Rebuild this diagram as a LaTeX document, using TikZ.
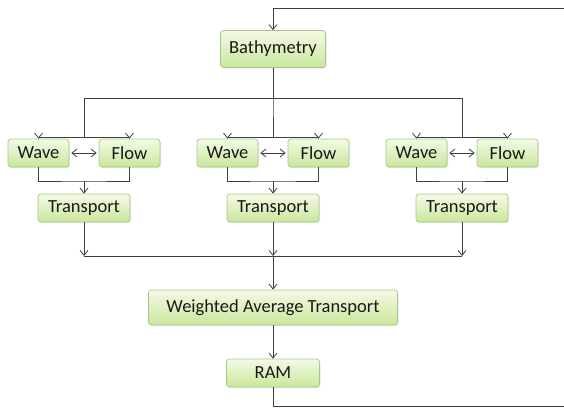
\documentclass[tikz,border=0pt]{standalone}
\usepackage{fontspec}
\setmainfont{Carlito}
\usetikzlibrary{arrows.meta,shadows}
\definecolor{boxtop}{HTML}{F3FAE6}
\definecolor{boxbottom}{HTML}{C9E79C}
\definecolor{boxline}{HTML}{A6C886}
\definecolor{linegray}{HTML}{404040}

\begin{document}
\begin{tikzpicture}[x=1pt,y=-1pt]

\tikzstyle{stage}=[rectangle,rounded corners=3pt,draw=boxline,line width=0.7pt,top color=boxtop,bottom color=boxbottom,minimum height=28pt,inner sep=0pt,text=black!90,font=\fontsize{18.5}{21}\selectfont,drop shadow={opacity=0.18,shadow xshift=1pt,shadow yshift=-1pt}]
\tikzstyle{plain}=[draw=linegray,line width=0.8pt]
\tikzstyle{link}=[plain,-{Straight Barb[length=5pt,width=8pt]}]
\tikzstyle{twoway}=[plain,{Straight Barb[length=5pt,width=8pt]}-{Straight Barb[length=5pt,width=8pt]},shorten <=2pt,shorten >=2pt]

\useasboundingbox (0,0) rectangle (564,408);

\node [stage,minimum width=105pt,minimum height=37pt] (bathy) at (273,49) {Bathymetry};
\node [stage,minimum width=249pt,minimum height=35pt] (wat) at (273,307.5) {Weighted Average Transport};
\node [stage,minimum width=93pt] (ram) at (273,373) {RAM};

\coordinate (gather) at (273,256);
\coordinate (looptop) at (564,8.5);
\coordinate (loopbottom) at (564,406);

% one wave/flow/transport block per branch
\foreach \g/\cx in {1/84,2/273,3/462}{
    \node [stage,minimum width=61pt] (wave\g) at (\cx-45.5,153) {Wave};
    \node [stage,minimum width=61pt] (flow\g) at (\cx+45.5,153) {Flow};
    \node [stage,minimum width=92pt] (trans\g) at (\cx,208) {Transport};
    \coordinate (fork\g) at (\cx,137);
    \coordinate (join\g) at (\cx,181);
    \draw [plain] (bathy.south) |- (\cx,98) -- (fork\g);
    \draw [link] (fork\g) -| (wave\g.north);
    \draw [link] (fork\g) -| (flow\g.north);
    \draw [twoway] (wave\g) -- (flow\g);
    \draw [plain] (wave\g.south) |- (join\g) -| (flow\g.south);
    \draw [link] (join\g) -- (trans\g.north);
    \draw [link] (trans\g.south) -- (trans\g.south |- gather);
}

\draw [plain] (trans1.south |- gather) -- (trans3.south |- gather);
\draw [link] (gather) -- (wat.north);
\draw [link] (wat.south) -- (ram.north);
\draw [plain] (ram.south) |- (loopbottom);
\draw [link] (looptop) -| (bathy.north);
\end{tikzpicture}
\end{document}
